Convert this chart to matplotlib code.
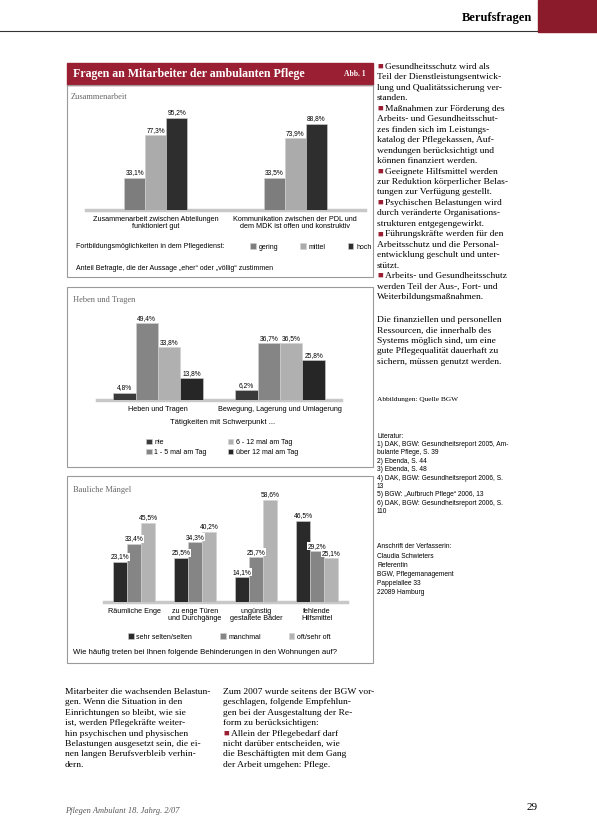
import numpy as np
import matplotlib
matplotlib.use("Agg")
from matplotlib import pyplot as plt
from matplotlib.patches import Rectangle

W, H = 597, 833
RED = "#9a1f32"
SANS = "Liberation Sans"
SERIF = "Liberation Serif"

# ---------------- data ----------------
# Abb. 1, oben: Zusammenarbeit
coop_cats = ["Zusammenarbeit zwischen Abteilungen\nfunktioniert gut",
             "Kommunikation zwischen der PDL und\ndem MDK ist offen und konstruktiv"]
coop_levels = ["gering", "mittel", "hoch"]
coop_gering = [33.1, 33.5]
coop_mittel = [77.3, 73.9]
coop_hoch = [95.2, 88.8]

# Abb. 1, Mitte: Heben und Tragen
lift_cats = ["Heben und Tragen", "Bewegung, Lagerung und Umlagerung"]
lift_levels = ["nie", "1 - 5 mal am Tag", "6 - 12 mal am Tag", "über 12 mal am Tag"]
lift_nie = [4.8, 6.2]
lift_1_5 = [49.4, 36.7]
lift_6_12 = [33.8, 36.5]
lift_12 = [13.8, 25.8]

# Abb. 1, unten: Bauliche Mängel
build_cats = ["Räumliche Enge", "zu enge Türen\nund Durchgänge",
              "ungünstig\ngestaltete Bäder", "fehlende\nHilfsmittel"]
build_levels = ["sehr selten/selten", "manchmal", "oft/sehr oft"]
build_selten = [23.1, 25.5, 14.1, 46.5]
build_manchmal = [33.4, 34.3, 25.7, 29.2]
build_oft = [45.5, 40.2, 58.6, 25.1]

fig = plt.figure(figsize=(W / 100, H / 100), dpi=100)
fig.patch.set_facecolor("white")


def box(x0, y0, x1, y1):
    return [x0 / W, 1 - y1 / H, (x1 - x0) / W, (y1 - y0) / H]


def ftext(x, y, s, **kw):
    kw.setdefault("va", "center")
    return fig.text(x / W, 1 - y / H, s, **kw)


def pct(v):
    return f"{v:.1f}%".replace(".", ",")


def bars(rect, cats, series, labels, colors, ymax, width, pad):
    ax = fig.add_axes(rect)
    x = np.arange(len(cats))
    n = len(series)
    handles = []
    for i, (vals, col, lab) in enumerate(zip(series, colors, labels)):
        pos = x + (i - (n - 1) / 2) * width
        b = ax.bar(pos, vals, width, color=col, edgecolor="#d0d0d0", lw=0.4, label=lab)
        handles.append(b)
        for p, v in zip(pos, vals):
            ax.text(p, v + ymax * 0.015, pct(v), ha="center", va="bottom", fontsize=4.8,
                    family=SANS, bbox=dict(fc="white", ec="none", pad=0.4))
    ax.set_xlim(-0.5, len(cats) - 0.5)
    ax.set_ylim(0, ymax)
    ax.axhline(0, color="#c8c8c8", lw=2.5, clip_on=False, zorder=0)
    ax.set_xticks(x, cats, fontsize=5.2, family=SANS, linespacing=1.1)
    ax.tick_params(length=0, pad=pad)
    ax.set_yticks([])
    for s in ax.spines.values():
        s.set_visible(False)
    ax.patch.set_alpha(0)
    return ax, handles


# ---------------- header ----------------
fig.add_artist(plt.Line2D([0, 537 / W], [1 - 31 / H] * 2, color="#333333", lw=0.8))
fig.add_artist(Rectangle((538 / W, 1 - 32 / H), 59 / W, 32 / H, color="#8b1a2b"))
ftext(532, 18, "Berufsfragen", ha="right", family=SERIF, fontsize=9, weight="bold")

# ---------------- chart panels ----------------
fig.add_artist(Rectangle((67 / W, 1 - 85 / H), 306 / W, 22 / H, color=RED))
ftext(73, 74, "Fragen an Mitarbeiter der ambulanten Pflege", family=SERIF,
      fontsize=8.6, weight="bold", color="white")
ftext(366, 74, "Abb. 1", ha="right", family=SERIF, fontsize=5.5, weight="bold", color="white")

for y0, y1 in [(85, 277), (287, 467), (476, 663)]:
    fig.add_artist(Rectangle((67 / W, 1 - y1 / H), 306 / W, (y1 - y0) / H,
                             fill=False, ec="#9a9a9a", lw=0.8))

# panel 1
ftext(71, 97, "Zusammenarbeit", family=SERIF, fontsize=6, color="#666666")
ax1, h1 = bars(box(86, 113, 365, 210), coop_cats, [coop_gering, coop_mittel, coop_hoch],
               coop_levels, ["#7d7d7d", "#ababab", "#2e2e2e"], 100, 0.15, 4)
ftext(76, 247, "Fortbildungsmöglichkeiten in dem Pflegedienst:", family=SANS, fontsize=5)
fig.legend(handles=h1, labels=coop_levels, ncol=3, loc="center left",
           bbox_to_anchor=(250 / W, 1 - 247 / H), frameon=False, prop=dict(family=SANS, size=5),
           handlelength=0.8, handleheight=0.8, handletextpad=0.4, columnspacing=3.2,
           borderaxespad=0, borderpad=0)
ftext(76, 268, "Anteil Befragte, die der Aussage „eher“ oder „völlig“ zustimmen",
      family=SANS, fontsize=5)

# panel 2
ftext(73, 300, "Heben und Tragen", family=SERIF, fontsize=6, color="#666666")
ax2, h2 = bars(box(97, 322, 341, 400), lift_cats, [lift_nie, lift_1_5, lift_6_12, lift_12],
               lift_levels, ["#3a3a3a", "#858585", "#b0b0b0", "#262626"], 50, 0.184, 4.5)
ftext(223, 422, "Tätigkeiten mit Schwerpunkt ...", ha="center", family=SANS, fontsize=5.5)
fig.legend(handles=h2, labels=lift_levels, ncol=2, loc="center left",
           bbox_to_anchor=(146 / W, 1 - 447.5 / H), frameon=False, prop=dict(family=SANS, size=5),
           handlelength=0.8, handleheight=0.8, handletextpad=0.4, columnspacing=3.0,
           labelspacing=0.4, borderaxespad=0, borderpad=0)

# panel 3
ftext(73, 490, "Bauliche Mängel", family=SERIF, fontsize=6, color="#666666")
ax3, h3 = bars(box(103.5, 497.6, 347.5, 602), build_cats,
               [build_selten, build_manchmal, build_oft], build_levels,
               ["#2a2a2a", "#858585", "#b3b3b3"], 60, 0.23, 4.3)
fig.legend(handles=h3, labels=build_levels, ncol=3, loc="center left",
           bbox_to_anchor=(128 / W, 1 - 637 / H), frameon=False, prop=dict(family=SANS, size=5),
           handlelength=0.8, handleheight=0.8, handletextpad=0.4, columnspacing=4.0,
           borderaxespad=0, borderpad=0)
ftext(73, 652, "Wie häufig treten bei Ihnen folgende Behinderungen in den Wohnungen auf?",
      family=SANS, fontsize=5.6)

# ---------------- body text ----------------
body = dict(family=SERIF, fontsize=6.8)
right_col = [
    "■ Gesundheitsschutz wird als",
    "Teil der Dienstleistungsentwick-",
    "lung und Qualitätssicherung ver-",
    "standen.",
    "■ Maßnahmen zur Förderung des",
    "Arbeits- und Gesundheitsschut-",
    "zes finden sich im Leistungs-",
    "katalog der Pflegekassen, Auf-",
    "wendungen berücksichtigt und",
    "können finanziert werden.",
    "■ Geeignete Hilfsmittel werden",
    "zur Reduktion körperlicher Belas-",
    "tungen zur Verfügung gestellt.",
    "■ Psychischen Belastungen wird",
    "durch veränderte Organisations-",
    "strukturen entgegengewirkt.",
    "■ Führungskräfte werden für den",
    "Arbeitsschutz und die Personal-",
    "entwicklung geschult und unter-",
    "stützt.",
    "■ Arbeits- und Gesundheitsschutz",
    "werden Teil der Aus-, Fort- und",
    "Weiterbildungsmaßnahmen.",
]


def lines(x, y, step, rows, **kw):
    for i, row in enumerate(rows):
        yy = y + i * step
        if row.startswith("■ "):
            ftext(x, yy, "■", color=RED, **kw)
            ftext(x + 8, yy, row[2:], **kw)
        else:
            ftext(x, yy, row, **kw)


lines(377, 67, 10.45, right_col, **body)
lines(377, 320, 10.45, [
    "Die finanziellen und personellen",
    "Ressourcen, die innerhalb des",
    "Systems möglich sind, um eine",
    "gute Pflegequalität dauerhaft zu",
    "sichern, müssen genutzt werden.",
], **body)
ftext(377, 400, "Abbildungen: Quelle BGW", family=SERIF, fontsize=5.3)

small = dict(family=SANS, fontsize=4.8)
lines(377, 436, 8.4, [
    "Literatur:",
    "1) DAK, BGW: Gesundheitsreport 2005, Am-",
    "bulante Pflege, S. 39",
    "2) Ebenda, S. 44",
    "3) Ebenda, S. 48",
    "4) DAK, BGW: Gesundheitsreport 2006, S.",
    "13",
    "5) BGW: „Aufbruch Pflege“ 2006, 13",
    "6) DAK, BGW: Gesundheitsreport 2006, S.",
    "110",
], **small)
lines(377, 547, 9.2, [
    "Anschrift der Verfasserin:",
    "Claudia Schwieters",
    "Referentin",
    "BGW, Pflegemanagement",
    "Pappelallee 33",
    "22089 Hamburg",
], **small)

lines(65, 692, 10.4, [
    "Mitarbeiter die wachsenden Belastun-",
    "gen. Wenn die Situation in den",
    "Einrichtungen so bleibt, wie sie",
    "ist, werden Pflegekräfte weiter-",
    "hin psychischen und physischen",
    "Belastungen ausgesetzt sein, die ei-",
    "nen langen Berufsverbleib verhin-",
    "dern.",
], **body)
lines(223, 692, 10.4, [
    "Zum 2007 wurde seitens der BGW vor-",
    "geschlagen, folgende Empfehlun-",
    "gen bei der Ausgestaltung der Re-",
    "form zu berücksichtigen:",
    "■ Allein der Pflegebedarf darf",
    "nicht darüber entscheiden, wie",
    "die Beschäftigten mit dem Gang",
    "der Arbeit umgehen: Pflege.",
], **body)

ftext(65, 811, "Pflegen Ambulant 18. Jahrg. 2/07", family=SERIF, fontsize=6, style="italic",
      color="#555555")
ftext(532, 808, "29", ha="center", family=SERIF, fontsize=8)

fig.savefig("out.png", dpi=100)
